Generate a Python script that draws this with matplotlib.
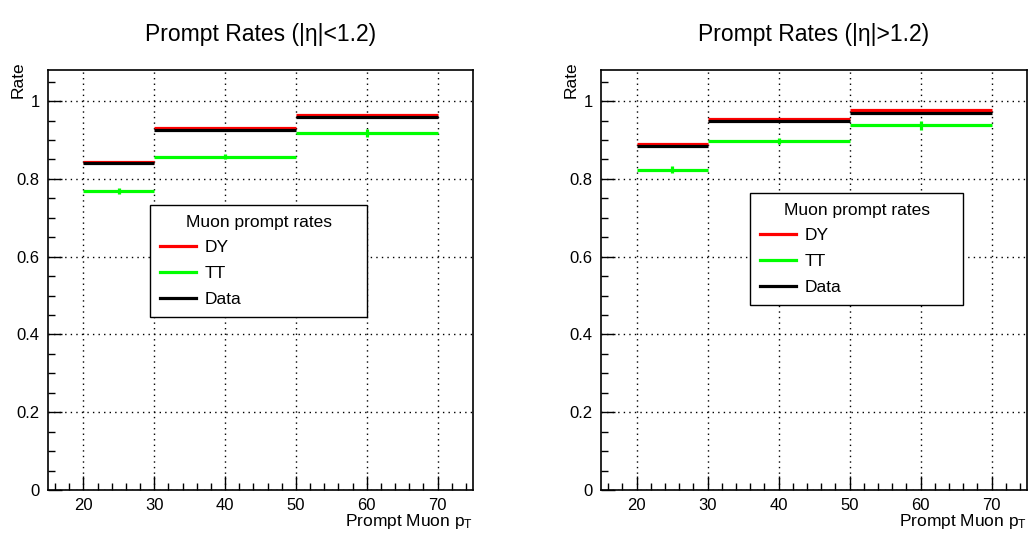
import matplotlib
matplotlib.use("Agg")
import matplotlib.pyplot as plt
import numpy as np
from matplotlib.ticker import MultipleLocator
from matplotlib.lines import Line2D

plt.rcParams['font.family'] = ['Liberation Sans', 'DejaVu Sans']
plt.rcParams['mathtext.fontset'] = 'custom'
plt.rcParams['mathtext.rm'] = 'Liberation Sans'
plt.rcParams['mathtext.it'] = 'Liberation Sans'

bin_edges = [20, 30, 50, 70]
titles = ["Prompt Rates (|η|<1.2)", "Prompt Rates (|η|>1.2)"]
series_names = ["DY", "TT", "Data"]
series_colors = ["#ff0000", "#00ff00", "black"]

# Left panel (|eta|<1.2)
dy_barrel = [0.843, 0.931, 0.965]
dy_barrel_err = [0.002, 0.002, 0.002]
tt_barrel = [0.769, 0.857, 0.918]
tt_barrel_err = [0.008, 0.006, 0.010]
data_barrel = [0.841, 0.927, 0.959]
data_barrel_err = [0.002, 0.001, 0.002]

# Right panel (|eta|>1.2)
dy_endcap = [0.890, 0.955, 0.976]
dy_endcap_err = [0.003, 0.002, 0.003]
tt_endcap = [0.824, 0.898, 0.938]
tt_endcap_err = [0.008, 0.007, 0.012]
data_endcap = [0.884, 0.948, 0.970]
data_endcap_err = [0.002, 0.002, 0.002]

panels = [
    ((dy_barrel, dy_barrel_err), (tt_barrel, tt_barrel_err), (data_barrel, data_barrel_err)),
    ((dy_endcap, dy_endcap_err), (tt_endcap, tt_endcap_err), (data_endcap, data_endcap_err)),
]

W, H = 1033, 533
fig = plt.figure(figsize=(W / 100, H / 100), dpi=100)

axes_px = [(48, 70, 473, 490), (601, 70, 1027, 490)]
legend_px = [(150, 205, 367, 310), (750, 193, 963, 298)]

edges = np.array(bin_edges, dtype=float)
centers = (edges[:-1] + edges[1:]) / 2
half = (edges[1:] - edges[:-1]) / 2
lw = 2.3

for i, (x0, y0, x1, y1) in enumerate(axes_px):
    ax = fig.add_axes([x0 / W, 1 - y1 / H, (x1 - x0) / W, (y1 - y0) / H])
    for k, (vals, errs) in enumerate(panels[i]):
        ax.errorbar(centers, vals, xerr=half, yerr=errs, fmt='none',
                    ecolor=series_colors[k], elinewidth=lw, capsize=0,
                    zorder=3 + (1 if k == 2 else 0))

    ax.set_xlim(15, 75)
    ax.set_ylim(0, 1.08)
    ax.set_xticks([20, 30, 40, 50, 60, 70])
    ax.set_yticks([0, 0.2, 0.4, 0.6, 0.8, 1.0])
    ax.set_yticklabels(['0', '0.2', '0.4', '0.6', '0.8', '1'])
    ax.xaxis.set_minor_locator(MultipleLocator(2))
    ax.yaxis.set_minor_locator(MultipleLocator(0.05))
    ax.tick_params(which='both', direction='in', top=False, right=False,
                   labelsize=12, width=1, color='black')
    ax.tick_params(which='major', length=10, pad=6)
    ax.tick_params(which='minor', length=5)
    ax.grid(True, which='major', linestyle=(0, (1, 3)), color='black', linewidth=1)
    for s in ax.spines.values():
        s.set_linewidth(1.2)
        s.set_color('black')

    ax.set_xlabel("Prompt Muon p$_{\\mathrm{T}}$", fontsize=12.5, loc='right', labelpad=-1)
    ax.set_ylabel("Rate", fontsize=12.5, loc='top')
    ax.yaxis.set_label_coords(-0.053, 1.02)

    cx = (x0 + x1) / 2
    fig.text(cx / W, 1 - 34 / H, titles[i], ha='center', va='center', fontsize=16.5)

    lx0, ly0, lx1, ly1 = legend_px[i]
    bx = (lx0 - x0) / (x1 - x0)
    by = (y1 - ly1) / (y1 - y0)
    bw = (lx1 - lx0) / (x1 - x0)
    bh = (ly1 - ly0) / (y1 - y0)
    handles = [Line2D([], [], color=c, linewidth=lw) for c in series_colors]
    leg = ax.legend(handles, series_names, loc='upper left',
                    bbox_to_anchor=(bx, by + bh, bw, 0), mode='expand',
                    title="Muon prompt rates", fontsize=12.5, title_fontsize=12.5,
                    fancybox=False, edgecolor='black', framealpha=1,
                    borderaxespad=0, handlelength=2.1, labelspacing=0.62,
                    borderpad=0.55, handletextpad=0.5)
    leg.get_frame().set_linewidth(1.0)

fig.savefig("out.png", dpi=100)
